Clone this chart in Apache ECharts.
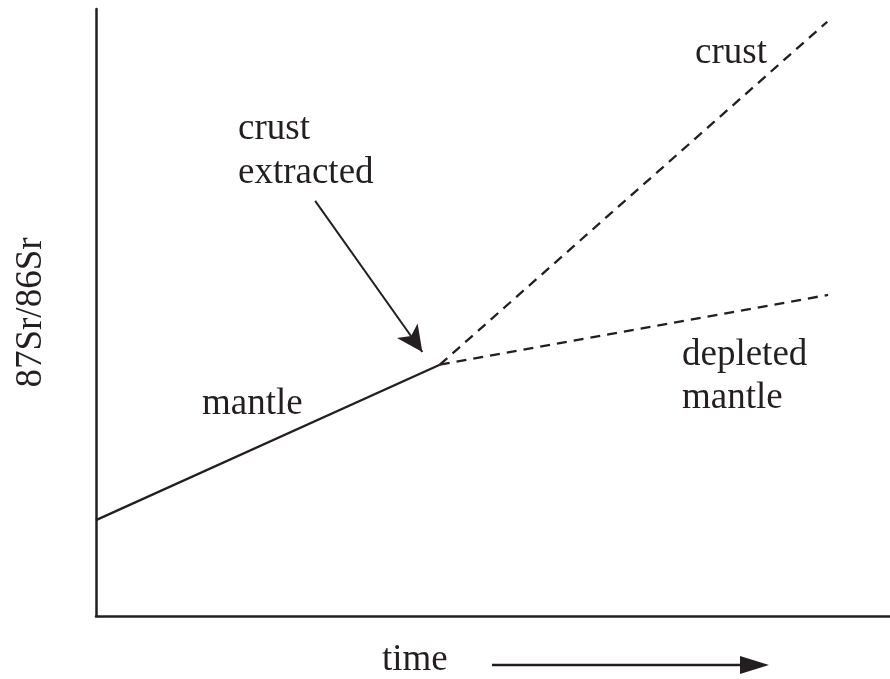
<!DOCTYPE html>
<html>
<head>
<meta charset="utf-8">
<script src="https://cdn.jsdelivr.net/npm/echarts@6/dist/echarts.min.js"></script>
<style>
  html, body { margin: 0; padding: 0; background: #fff; }
  #chart { width: 890px; height: 679px; }
</style>
</head>
<body>
<div id="chart"></div>
<script>
  // schematic Sr isotope evolution, arbitrary units (0-100)
  var mantleX = [0, 43.3];
  var mantleY = [15.8, 41.4];
  var crustX = [43.3, 92.1];
  var crustY = [41.4, 97.9];
  var depletedX = [43.3, 92.2];
  var depletedY = [41.4, 52.9];
  var arrowFrom = [27.6, 68.4];
  var arrowTo = [41.1, 43.5];

  var ink = "#231f20";
  var serif = "Liberation Serif, Times New Roman, serif";

  function pairs(xs, ys) {
    return xs.map(function (x, i) { return [x, ys[i]]; });
  }

  var myChart = echarts.init(document.getElementById("chart"));

  var option = {
    animation: false,
    backgroundColor: "#fff",
    grid: { left: 96, right: 0, top: 9, bottom: 63, containLabel: false, outerBoundsMode: "none" },
    xAxis: {
      type: "value", min: 0, max: 100,
      axisLine: { show: true, lineStyle: { color: ink, width: 2.5 } },
      axisTick: { show: false }, axisLabel: { show: false }, splitLine: { show: false }
    },
    yAxis: {
      type: "value", min: 0, max: 100,
      name: "87Sr/86Sr", nameLocation: "middle", nameRotate: 90, nameGap: 46,
      nameTextStyle: { fontFamily: serif, fontSize: 37, color: ink },
      axisLine: { show: true, lineStyle: { color: ink, width: 2.5 } },
      axisTick: { show: false }, axisLabel: { show: false }, splitLine: { show: false }
    },
    series: [
      {
        name: "mantle", type: "line", data: pairs(mantleX, mantleY),
        showSymbol: false, lineStyle: { color: ink, width: 2.3 },
        markLine: {
          silent: true, symbol: ["none", "arrow"], symbolSize: [19, 26],
          label: { show: false },
          lineStyle: { color: ink, width: 2, type: "solid" },
          data: [[{ coord: arrowFrom }, { coord: arrowTo }]]
        }
      },
      {
        name: "crust", type: "line", data: pairs(crustX, crustY),
        showSymbol: false, lineStyle: { color: ink, width: 2.3, type: [10, 7] }
      },
      {
        name: "depleted mantle", type: "line", data: pairs(depletedX, depletedY),
        showSymbol: false, lineStyle: { color: ink, width: 2.3, type: [10, 7] }
      }
    ],
    graphic: [
      { type: "text", left: 238, top: 107, style: { text: "crust\nextracted", font: "37px " + serif, fill: ink, lineHeight: 44 } },
      { type: "text", left: 202, top: 386, style: { text: "mantle", font: "37px " + serif, fill: ink } },
      { type: "text", left: 695, top: 35, style: { text: "crust", font: "37px " + serif, fill: ink } },
      { type: "text", left: 682, top: 334, style: { text: "depleted\nmantle", font: "37px " + serif, fill: ink, lineHeight: 43 } },
      { type: "text", left: 382, top: 642, style: { text: "time", font: "37px " + serif, fill: ink } },
      { type: "line", shape: { x1: 492, y1: 665, x2: 745, y2: 665 }, style: { stroke: ink, lineWidth: 2.5 } },
      { type: "polygon", shape: { points: [[740, 656], [769, 665], [740, 674]] }, style: { fill: ink } }
    ]
  };

  myChart.setOption(option);
</script>
</body>
</html>
